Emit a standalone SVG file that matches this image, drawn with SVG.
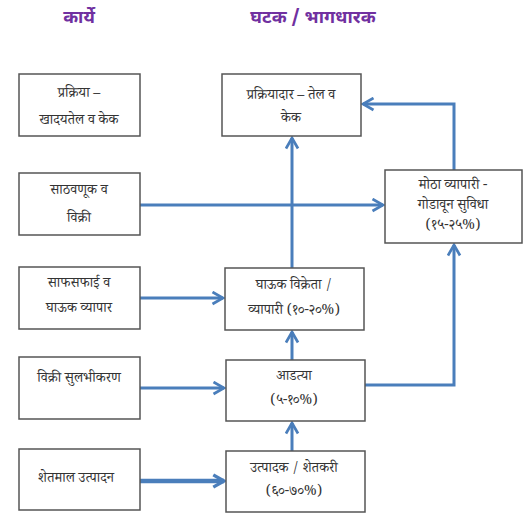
<svg xmlns="http://www.w3.org/2000/svg" width="527" height="516" viewBox="0 0 527 516">
<defs>
<style>
.box{fill:#fff;stroke:#555;stroke-width:1.5}
.t{font-family:"Noto Serif Devanagari","Noto Sans Devanagari","Lohit Devanagari","Noto Sans","DejaVu Sans",sans-serif;font-size:14px;fill:#333;text-anchor:middle;dominant-baseline:central}
.h{font-family:"Noto Sans Devanagari","Noto Sans","DejaVu Sans",sans-serif;font-size:18px;font-weight:bold;fill:#7030a0;text-anchor:middle;dominant-baseline:central}
.c{fill:none;stroke:#4a7ebb;stroke-width:3}
</style>
<marker id="ah" viewBox="0 0 10 10" refX="8" refY="5" markerWidth="5" markerHeight="5" orient="auto" markerUnits="strokeWidth">
<path d="M1,1 L8,5 L1,9" fill="none" stroke="#4a7ebb" stroke-width="1.8"/>
</marker>
<marker id="ah2" viewBox="0 0 10 10" refX="8" refY="5" markerWidth="3.4" markerHeight="3.4" orient="auto" markerUnits="strokeWidth">
<path d="M1,1 L8,5 L1,9" fill="none" stroke="#4a7ebb" stroke-width="2.2"/>
</marker>
</defs>
<rect width="527" height="516" fill="#fff"/>
<g id="headings">
<text class="h" x="79" y="18">कार्ये</text>
<text class="h" x="313" y="18">घटक / भागधारक</text>
</g>
<g id="connectors">
<path class="c" d="M140,205 L383,205" marker-end="url(#ah)"/>
<path class="c" d="M292,268 L292,138" marker-end="url(#ah)"/>
<path class="c" d="M454,170 L454,104 L363,104" marker-end="url(#ah)"/>
<path class="c" d="M365,385 L454,385 L454,245" marker-end="url(#ah)"/>
<path class="c" d="M140,298 L223,298" marker-end="url(#ah)"/>
<path class="c" d="M140,388 L224,388" marker-end="url(#ah)"/>
<path class="c" d="M131,481 L224,481" style="stroke-width:4.5" marker-end="url(#ah2)"/>
<path class="c" d="M292,360 L292,332" marker-end="url(#ah)"/>
<path class="c" d="M292,451 L292,423" marker-end="url(#ah)"/>
</g>
<g id="f1"><rect class="box" x="19" y="74" width="121" height="62"/><text class="t" x="79" y="95">प्रक्रिया –</text><text class="t" x="79" y="122">खादयतेल व केक</text></g>
<g id="f2"><rect class="box" x="19" y="173" width="121" height="62"/><text class="t" x="79" y="192">साठवणूक व</text><text class="t" x="79" y="220">विक्री</text></g>
<g id="f3"><rect class="box" x="19" y="267" width="121" height="62"/><text class="t" x="79" y="285">साफसफाई व</text><text class="t" x="79" y="310">घाऊक व्यापार</text></g>
<g id="f4"><rect class="box" x="19" y="357" width="121" height="62"/><text class="t" x="79" y="380">विक्री सुलभीकरण</text></g>
<g id="f5"><rect class="box" x="19" y="449" width="121" height="61"/><text class="t" x="76" y="480">शेतमाल उत्पादन</text></g>
<g id="processor"><rect class="box" x="222" y="74" width="139" height="62"/><text class="t" x="291" y="97">प्रक्रियादार – तेल व</text><text class="t" x="291" y="120">केक</text></g>
<g id="bigtrader"><rect class="box" x="385" y="170" width="137" height="73"/><text class="t" x="453" y="187">मोठा व्यापारी -</text><text class="t" x="453" y="207">गोडावून सुविधा</text><text class="t" x="453" y="227">(१५-२५%)</text></g>
<g id="wholesaler"><rect class="box" x="225" y="268" width="139" height="62"/><text class="t" x="294" y="287">घाऊक विक्रेता /</text><text class="t" x="294" y="312">व्यापारी (१०-२०%)</text></g>
<g id="adatya"><rect class="box" x="226" y="360" width="139" height="61"/><text class="t" x="294" y="378">आडत्या</text><text class="t" x="294" y="402">(५-१०%)</text></g>
<g id="producer"><rect class="box" x="226" y="451" width="139" height="61"/><text class="t" x="294" y="470">उत्पादक / शेतकरी</text><text class="t" x="294" y="493">(६०-७०%)</text></g>
</svg>
